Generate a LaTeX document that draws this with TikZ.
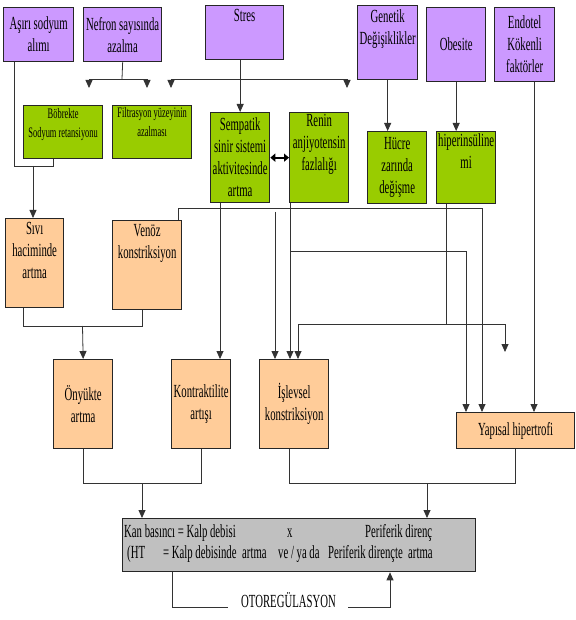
\documentclass[tikz,border=0pt]{standalone}
\usepackage{fontspec}
\setmainfont{Liberation Serif}
\newfontfamily\nf[FakeStretch=0.58]{Liberation Serif}
\usetikzlibrary{arrows.meta,calc}
\definecolor{pur}{HTML}{CC99FF}
\definecolor{grn}{HTML}{99CC00}
\definecolor{org}{HTML}{FFCC99}
\definecolor{gry}{HTML}{C0C0C0}
\newcommand{\bxt}[4]{\parbox[c][#2][#3]{#1}{\centering #4}}
\tikzset{
  box/.style={draw=black!85, line width=1.3pt, inner sep=0pt, anchor=north west,
    font=\nf\fontsize{18.5}{22}\selectfont},
  pbox/.style={box, fill=pur},
  gbox/.style={box, fill=grn},
  obox/.style={box, fill=org},
  kbox/.style={box, fill=gry},
  sml/.style={font=\nf\fontsize{14.5}{19}\selectfont},
  txt/.style={inner sep=0pt, anchor=base west, font=\nf\fontsize{18.5}{20}\selectfont},
  ln/.style={draw=black!80, line width=0.8pt},
  ar/.style={ln, -{Triangle[length=8pt,width=7pt]}},
  dar/.style={draw=black, line width=2pt, {Triangle[length=5pt,width=8pt]}-{Triangle[length=5pt,width=8pt]}},
}
\begin{document}
\begin{tikzpicture}[x=1pt,y=-1pt]
\useasboundingbox (0,0) rectangle (575,620);
\fill[white] (0,0) rectangle (575,620);
% purple
\node[pbox] (aso) at (3,7) {\bxt{70pt}{54pt}{c}{Aşırı sodyum\\alımı}};
\node[pbox] (nef) at (83,7) {\bxt{78pt}{54pt}{c}{Nefron sayısında\\azalma}};
\node[pbox] (str) at (205,5) {\bxt{78pt}{54pt}{t}{\vspace*{4pt}Stres}};
\node[pbox] (gen) at (357,5) {\bxt{60pt}{74pt}{t}{\vspace*{4pt}Genetik\\Değişiklikler}};
\node[pbox] (obe) at (426,7) {\bxt{59pt}{74pt}{c}{Obesite}};
\node[pbox] (end) at (494,7) {\bxt{60pt}{74pt}{c}{Endotel\\Kökenli\\faktörler}};
% green
\node[gbox,sml] (bob) at (23,105) {\bxt{79pt}{53pt}{t}{\vspace*{3pt}Böbrekte\\Sodyum retansiyonu}};
\node[gbox,sml] (fil) at (112,105) {\bxt{79pt}{53pt}{t}{\vspace*{2pt}Filtrasyon yüzeyinin\\azalması}};
\node[gbox] (sem) at (210,112) {\bxt{59pt}{90pt}{c}{Sempatik\\sinir sistemi\\aktivitesinde\\artma}};
\node[gbox] (ren) at (289,112) {\bxt{59pt}{90pt}{t}{\vspace*{2pt}Renin\\anjiyotensin\\fazlalığı}};
\node[gbox] (huc) at (367,131) {\bxt{59pt}{72pt}{c}{Hücre\\zarında\\değişme}};
\node[gbox] (hip) at (436,131) {\bxt{59pt}{72pt}{t}{\vspace*{2pt}hiperinsüline\\mi}};
% orange
\node[obox] (siv) at (5,218) {\bxt{58pt}{89pt}{t}{\vspace*{4pt}Sıvı\\haciminde\\artma}};
\node[obox] (ven) at (112,220) {\bxt{69pt}{89pt}{t}{\vspace*{4pt}Venöz\\konstriksiyon}};
\node[obox] (ony) at (53,359) {\bxt{59pt}{89pt}{c}{Önyükte\\artma}};
\node[obox] (kon) at (171,359) {\bxt{59pt}{89pt}{c}{Kontraktilite\\artışı}};
\node[obox] (isl) at (259,359) {\bxt{69pt}{89pt}{c}{İşlevsel\\konstriksiyon}};
\node[obox] (yap) at (456,412) {\bxt{118pt}{36pt}{c}{Yapısal hipertrofi}};
% grey
\node[kbox, minimum width=353pt, minimum height=53pt] (gry) at (122,518) {};
\node[txt] (t1) at (124,537) {Kan basıncı = Kalp debisi};
\node[txt] (t2) at (287,537) {x};
\node[txt] (t3) at (365,537) {Periferik direnç};
\node[txt] (t4) at (127,558) {(HT};
\node[txt] (t5) at (163,558) {= Kalp debisinde};
\node[txt] (t6) at (242,558) {artma};
\node[txt] (t7) at (278,558) {ve / ya da};
\node[txt] (t8) at (328,558) {Periferik dirençte};
\node[txt] (t9) at (408,558) {artma};
\node[txt, anchor=base] (oto) at (288.5,607) {OTOREGÜLASYON};
% coordinates
\coordinate (jA) at (53,166);
\coordinate (jB) at (33,166);
\coordinate (nJ) at (122,79);
\coordinate (nA1) at (89,88);
\coordinate (nA2) at (147,88);
\coordinate (sJ) at (239.5,79);
\coordinate (sA1) at (171,88);
\coordinate (sA2) at (347,88);
\coordinate (eS) at ([xshift=40pt]end.south west);
\coordinate (vS) at ([xshift=-4pt]ven.north east);
\coordinate (vB) at (482,208);
\coordinate (sS) at ([xshift=10pt]sem.south west);
\coordinate (fA) at (275,212);
\coordinate (rS) at ([xshift=1pt]ren.south west);
\coordinate (rJ) at (290,251);
\coordinate (rE) at (466,251);
\coordinate (hS) at ([xshift=10pt]hip.south west);
\coordinate (hJ) at (446,324);
\coordinate (hL) at (298,324);
\coordinate (hR) at (505,352);
\coordinate (svS) at ([xshift=18pt]siv.south west);
\coordinate (vnS) at ([xshift=30pt]ven.south west);
\coordinate (bJ) at (82.5,326);
\coordinate (cJ) at (142,483);
\coordinate (iS) at ([xshift=-5pt]isl.south);
\coordinate (pJ) at (427,483);
\coordinate (oA) at ([xshift=50pt]gry.south west);
\coordinate (oL) at (228,607);
\coordinate (oR) at (348,607);
\coordinate (oB) at ([xshift=268pt]gry.south west);
% connectors
\draw[ln] ([xshift=11pt]aso.south west) |- (jA) -- ([xshift=30pt]bob.south west);
\draw[ar] (jB) -- (jB |- siv.north);
\draw[ln] (nef.south) -- (nJ);
\draw[ar] (nJ) -| (nA1);
\draw[ar] (nJ) -| (nA2);
\draw[ar] (sem.north |- str.south) -- (sem.north);
\draw[ar] (sJ) -| (sA1);
\draw[ar] (sJ) -| (sA2);
\draw[dar] (sem.east) -- (ren.west);
\draw[ar] (gen.south) -- (gen.south |- huc.north);
\draw[ar] (obe.south) -- (obe.south |- hip.north);
\draw[ar] (eS) -- (eS |- yap.north);
\draw[ar] (vS) |- (vB) -- (vB |- yap.north);
\draw[ar] (sS) -- (sS |- kon.north);
\draw[ar] (fA) -- (fA |- isl.north);
\draw[ar] (rS) -- (rS |- isl.north);
\draw[ar] (rJ) -- (rE) -- (rE |- yap.north);
\draw[ln] (hS) -- (hJ);
\draw[ar] (hJ) -- (hL) -- (hL |- isl.north);
\draw[ar] (hJ) -| (hR);
\draw[ln] (svS) |- (vnS |- bJ) -- (vnS);
\draw[ar] (bJ) -- (ony.north);
\draw[ln] (ony.south) |- (kon.south |- cJ) -- (kon.south);
\draw[ar] (cJ) -- (cJ |- gry.north);
\draw[ln] (iS) |- (yap.south |- pJ) -- (yap.south);
\draw[ar] (pJ) -- (pJ |- gry.north);
\draw[ln] (oA) |- (oL);
\draw[ar] (oR) -| (oB);
\end{tikzpicture}
\end{document}
